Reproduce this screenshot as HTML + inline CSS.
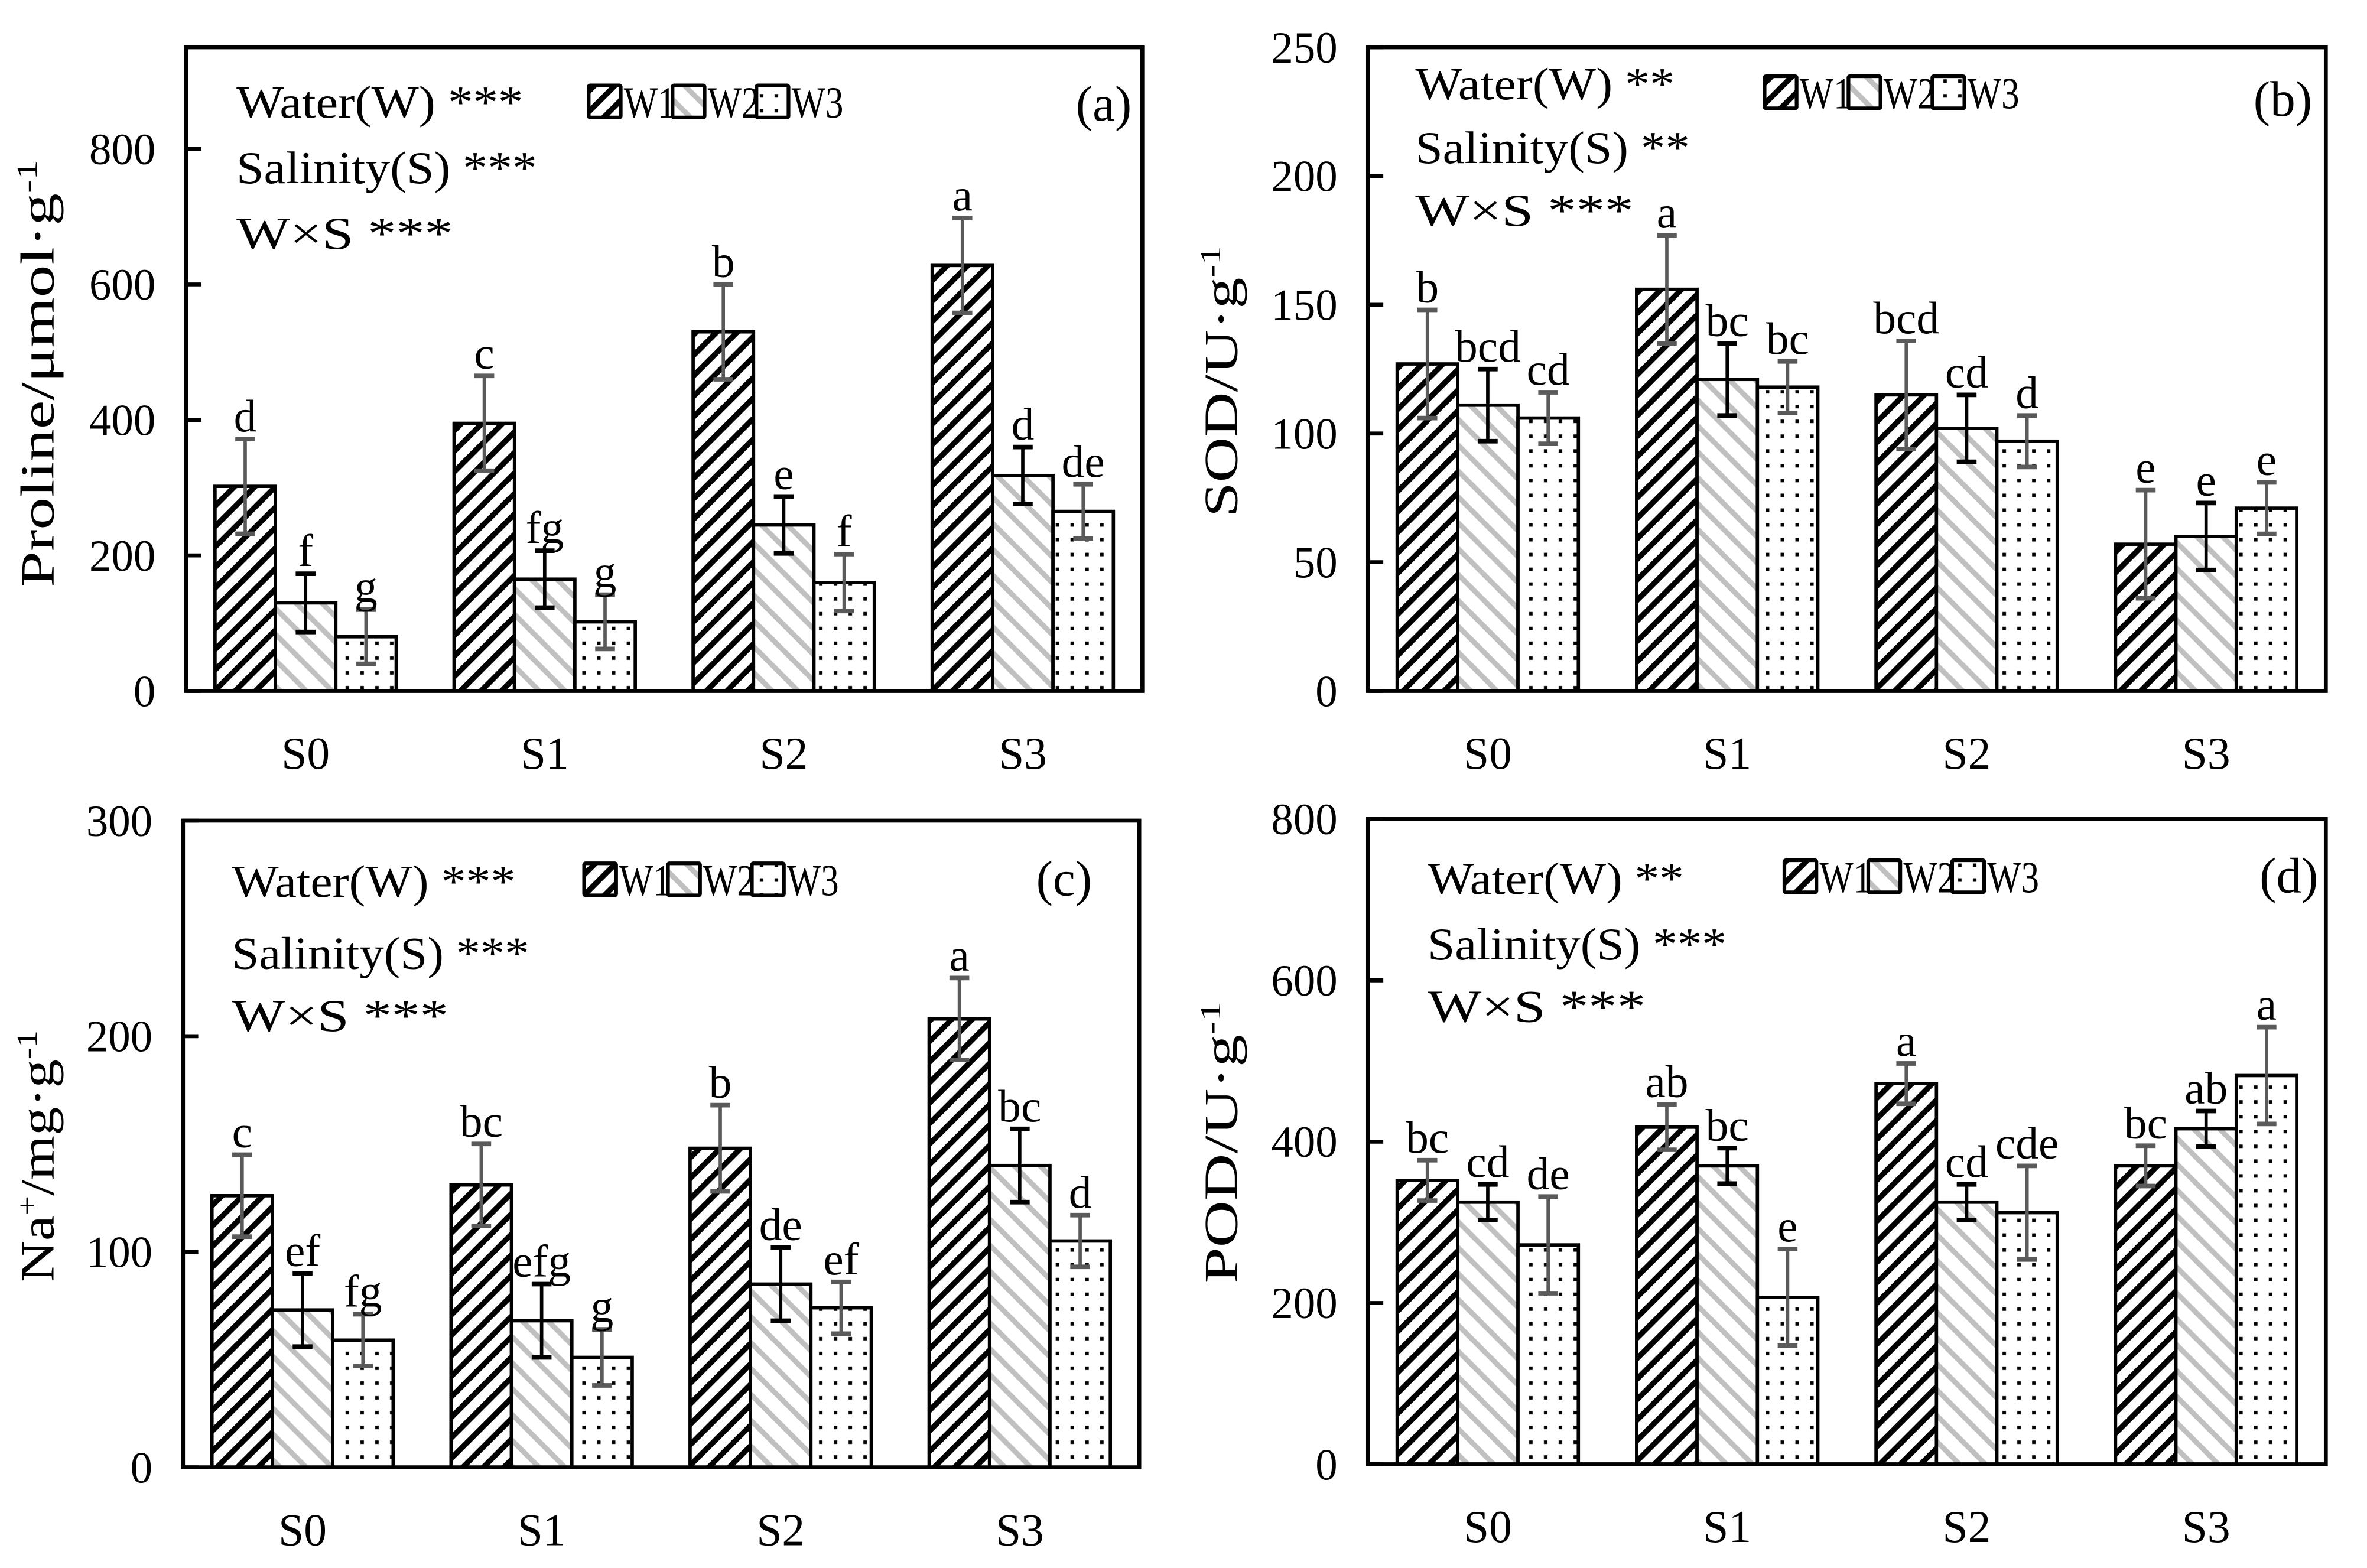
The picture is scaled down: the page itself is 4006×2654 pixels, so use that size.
<!DOCTYPE html>
<html><head><meta charset="utf-8"><style>
html,body{margin:0;padding:0;background:#fff;}
svg{display:block;}
text{font-family:"Liberation Serif",serif;fill:#000;}
</style></head><body>
<svg id="fig" width="4006" height="2654" viewBox="0 0 1552 1028" preserveAspectRatio="none" xmlns="http://www.w3.org/2000/svg">
<defs>
<pattern id="pW1" patternUnits="userSpaceOnUse" width="9.5" height="9.5" patternTransform="rotate(45)">
<rect width="9.5" height="9.5" fill="#fff"/><rect x="0" y="0" width="3.6" height="9.5" fill="#000"/></pattern>
<pattern id="pW2" patternUnits="userSpaceOnUse" width="12" height="12" patternTransform="rotate(-45)">
<rect width="12" height="12" fill="#fff"/><rect x="0" y="0" width="3.4" height="12" fill="#c0c0c0"/></pattern>
<pattern id="pW3" patternUnits="userSpaceOnUse" width="9.7" height="9.7">
<rect width="9.7" height="9.7" fill="#fff"/><rect x="3.5" y="3.5" width="2.3" height="2.3" fill="#000"/></pattern>
</defs>
<g id="root"></g>
</svg>
<script>
const categories = ["S0","S1","S2","S3"];
const seriesNames = ["W1","W2","W3"];
// panel a
const aW1 = [302,395,530,628], aW2 = [130,165,245,318], aW3 = [80,102,160,265];
const aE1 = [70,70,70,70], aE2 = [43,42,42,42], aE3 = [40,40,42,40];
const aL1 = ["d","c","b","a"], aL2 = ["f","fg","e","d"], aL3 = ["g","g","f","de"];
const aTicks = [0,200,400,600,800];
// panel b
const bW1 = [127,156,115,57], bW2 = [111,121,102,60], bW3 = [106,118,97,71];
const bE1 = [21,21,21,21], bE2 = [14,14,13,13], bE3 = [10,10,10,10];
const bL1 = ["b","a","bcd","e"], bL2 = ["bcd","bc","cd","e"], bL3 = ["cd","bc","d","e"];
const bTicks = [0,50,100,150,200,250];
// panel c
const cW1 = [126,131,148,208], cW2 = [73,68,85,140], cW3 = [59,51,74,105];
const cE1 = [19,19,20,19], cE2 = [17,17,17,17], cE3 = [12,13,12,12];
const cL1 = ["c","bc","b","a"], cL2 = ["ef","efg","de","bc"], cL3 = ["fg","g","ef","d"];
const cTicks = [0,100,200,300];
// panel d
const dW1 = [352,418,472,370], dW2 = [325,370,325,416], dW3 = [272,207,312,482];
const dE1 = [25,28,25,25], dE2 = [22,22,22,22], dE3 = [60,60,58,60];
const dL1 = ["bc","ab","a","bc"], dL2 = ["cd","bc","cd","ab"], dL3 = ["de","e","cde","a"];
const dTicks = [0,200,400,600,800];

const NS = "http://www.w3.org/2000/svg";
const root = document.getElementById("root");
function mk(tag, attrs, parent){ const e=document.createElementNS(NS,tag); for(const k in attrs) e.setAttribute(k,attrs[k]); (parent||root).appendChild(e); return e; }

function panel(cfg){
  const g = mk("g",{});
  
  
  const L=cfg.x0, R=cfg.x1, T=cfg.y0, B=cfg.y1;
  const y = v => B - (v/cfg.max)*(B-T);
  const groupW = (R-L)/categories.length;
  const barW = 39.6;
  const xBar = (ci,si) => L + groupW*ci + groupW/2 - 1.5*barW + si*barW;
  const vals=[cfg.v1,cfg.v2,cfg.v3], errs=[cfg.e1,cfg.e2,cfg.e3], labs=[cfg.l1,cfg.l2,cfg.l3];
  const errCol=["#5a5a5a","#000","#5a5a5a"];
  for(let si=0;si<3;si++){
    for(let ci=0;ci<categories.length;ci++){
      const v=vals[si][ci], x=xBar(ci,si);
      const r = mk("rect",{x:x,y:y(v),width:barW,height:B-y(v),fill:"url(#pW"+(si+1)+")",stroke:"#000","stroke-width":2.2},g);
      
      
    }
  }
  for(let si=0;si<3;si++){
    for(let ci=0;ci<categories.length;ci++){
      const v=vals[si][ci], e=errs[si][ci], cx=xBar(ci,si)+barW/2;
      const eg = mk("g",{stroke:errCol[si],"stroke-width":2.2},g);
      
      
      mk("line",{x1:cx,x2:cx,y1:y(v+e),y2:y(v-e)},eg);
      mk("line",{x1:cx-6.5,x2:cx+6.5,y1:y(v+e),y2:y(v+e),"stroke-width":3},eg);
      mk("line",{x1:cx-6.5,x2:cx+6.5,y1:y(v-e),y2:y(v-e),"stroke-width":3},eg);
      const t = mk("text",{x:cx,y:y(v+e)-5,"font-size":30,"text-anchor":"middle"},g);
      t.textContent = labs[si][ci];
      
      
    }
  }
  const fr = mk("rect",{x:L,y:T,width:R-L,height:B-T,fill:"none",stroke:"#000","stroke-width":2.6},g);
  
  
  for(const tv of cfg.ticks){
    mk("line",{x1:L,x2:L+10,y1:y(tv),y2:y(tv),stroke:"#000","stroke-width":2.6},g);
    const t = mk("text",{x:L-20,y:y(tv)+10,"font-size":29,"text-anchor":"end"},g);
    t.textContent = tv;
    
    
  }
  categories.forEach((c,ci)=>{
    const t = mk("text",{x:L+groupW*ci+groupW/2,y:B+51,"font-size":30,"text-anchor":"middle"},g);
    t.textContent = c;
    
    
  });
  const yt = mk("text",{x:0,y:0,"font-size":31,"text-anchor":"middle",textLength:cfg.tl,lengthAdjust:"spacingAndGlyphs",transform:"translate("+cfg.tx+","+cfg.ty+") rotate(-90)"},g);
  yt.innerHTML = cfg.title;
  
  
  cfg.stats.forEach((s,i)=>{
    const t = mk("text",{x:cfg.sx,y:cfg.sy[i],"font-size":30,textLength:cfg.sw[i],lengthAdjust:"spacingAndGlyphs"},g);
    t.textContent = s;
    
    
  });
  const lg = mk("g",{},g);
  
  
  seriesNames.forEach((n,si)=>{
    const lx = cfg.lx + si*55;
    const b = mk("rect",{x:lx,y:cfg.ly,width:21,height:21,fill:"url(#pW"+(si+1)+")",stroke:"#000","stroke-width":2.4,rx:1},lg);
    
    
    const t = mk("text",{x:lx+23,y:cfg.ly+21,"font-size":29,textLength:34,lengthAdjust:"spacingAndGlyphs"},lg);
    t.textContent = n;
    
    
  });
  const pl = mk("text",{x:cfg.px,y:cfg.py,"font-size":33,"text-anchor":"end"},g);
  pl.textContent = "(" + cfg.id + ")";
  
  
}

panel({id:"a",x0:122,x1:749,y0:31,y1:453,max:950,v1:aW1,v2:aW2,v3:aW3,e1:aE1,e2:aE2,e3:aE3,l1:aL1,l2:aL2,l3:aL3,ticks:aTicks,
  tx:35,ty:245,tl:280,title:'Proline/μmol·g<tspan dy="-11" font-size="19">-1</tspan>',
  stats:["Water(W) ***","Salinity(S) ***","W×S  ***"],sx:155,sy:[77,120,163],sw:[188,197,142],lx:386,ly:56,px:742,py:79});
panel({id:"b",x0:897,x1:1525,y0:31,y1:453,max:250,v1:bW1,v2:bW2,v3:bW3,e1:bE1,e2:bE2,e3:bE3,l1:bL1,l2:bL2,l3:bL3,ticks:bTicks,
  tx:811,ty:250,tl:178,title:'SOD/U·g<tspan dy="-11" font-size="19">-1</tspan>',
  stats:["Water(W) **","Salinity(S) **","W×S  ***"],sx:928,sy:[65,107,148],sw:[170,180,143],lx:1157,ly:50,px:1516,py:76});
panel({id:"c",x0:120,x1:747,y0:538,y1:962,max:300,v1:cW1,v2:cW2,v3:cW3,e1:cE1,e2:cE2,e3:cE3,l1:cL1,l2:cL2,l3:cL3,ticks:cTicks,
  tx:35,ty:758,tl:165,title:'Na<tspan dy="-11" font-size="19">+</tspan><tspan dy="11">/mg·g</tspan><tspan dy="-11" font-size="19">-1</tspan>',
  stats:["Water(W) ***","Salinity(S) ***","W×S  ***"],sx:152,sy:[588,635,676],sw:[186,195,142],lx:383,ly:566,px:716,py:587});
panel({id:"d",x0:897,x1:1525,y0:537,y1:960,max:800,v1:dW1,v2:dW2,v3:dW3,e1:dE1,e2:dE2,e3:dE3,l1:dL1,l2:dL2,l3:dL3,ticks:dTicks,
  tx:811,ty:749,tl:185,title:'POD/U·g<tspan dy="-11" font-size="19">-1</tspan>',
  stats:["Water(W) **","Salinity(S) ***","W×S  ***"],sx:936,sy:[586,629,670],sw:[168,196,143],lx:1170,ly:564,px:1520,py:585});
</script>
</body></html>
